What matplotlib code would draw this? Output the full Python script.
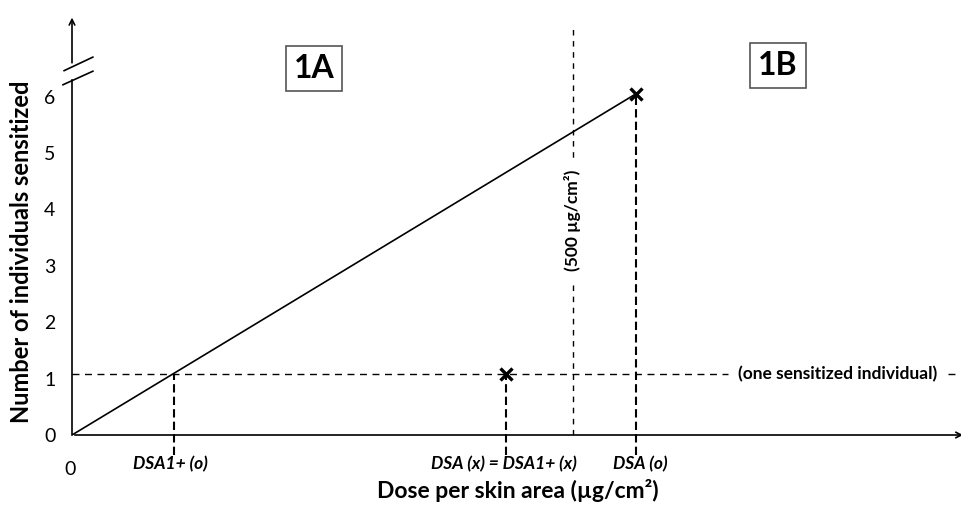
import matplotlib.pyplot as plt

plt.rcParams["font.family"] = ["Lato", "DejaVu Sans"]

# schematic values (arbitrary dose units)
yticks = [0, 1, 2, 3, 4, 5, 6]
line_x = [0, 10.0]
line_y = [0, 6.05]
one_level = 1.08
dsa1_o = 1.8
dsa_x = 7.7
dsa_o = 10.0
limit_500 = 8.88

W, H = 961, 505
scale = 56.4
x0_px, y0_px = 72, 70

fig = plt.figure(figsize=(W / 100, H / 100), dpi=100)
ax = fig.add_axes([x0_px / W, y0_px / H, 1 - x0_px / W, 1 - y0_px / H])
ax.set_xlim(0, (W - x0_px) / scale)
ax.set_ylim(0, (H - y0_px) / scale)
for s in ax.spines.values():
    s.set_visible(False)

ax.set_yticks(yticks)
ax.set_yticklabels([str(v) for v in yticks], fontsize=14)
ax.tick_params(axis="y", length=0, pad=12)
ax.set_xticks([])

lw = 1.2
# y axis with break
ax.plot([0, 0], [0, 6.3], color="black", lw=lw, clip_on=False)
ax.annotate("", xy=(0, 7.45), xytext=(0, 6.55),
            arrowprops=dict(arrowstyle="->", lw=lw, color="black"))
ax.plot([-0.16, 0.37], [6.21, 6.45], color="black", lw=lw, clip_on=False)
ax.plot([-0.14, 0.37], [6.46, 6.70], color="black", lw=lw, clip_on=False)

# x axis
ax.annotate("", xy=(15.85, 0), xytext=(0, 0),
            arrowprops=dict(arrowstyle="->", lw=lw, color="black"),
            annotation_clip=False)

# dose-response line
ax.plot(line_x, line_y, color="black", lw=lw)
ax.plot([line_x[1]], [line_y[1]], marker="x", color="black", ms=9, mew=2.4)
ax.plot([dsa_x], [one_level], marker="x", color="black", ms=8, mew=2.4)

# one sensitized individual
ax.plot([0, 11.63], [one_level, one_level], color="black", lw=1, ls=(0, (5, 4)))
ax.plot([15.53, 15.8], [one_level, one_level], color="black", lw=1, ls=(0, (5, 4)),
        clip_on=False)
ax.text(13.58, one_level, "(one sensitized individual)", fontsize=12.5,
        fontweight="bold", ha="center", va="center")

# 500 ug/cm2 limit
ax.plot([limit_500, limit_500], [0, 7.27], color="black", lw=1, ls=(0, (4, 4)))
ax.text(limit_500, 3.8, "(500 µg/cm²)", rotation=90, fontsize=12.5,
        fontweight="bold", ha="center", va="center",
        bbox=dict(facecolor="white", edgecolor="none", pad=8))

# DSA drop lines
for xv, top in [(dsa1_o, one_level), (dsa_x, one_level), (dsa_o, line_y[1])]:
    ax.plot([xv, xv], [-0.35, top], color="black", lw=1.5, ls=(0, (4, 2)),
            clip_on=False)

lab_y = -0.52
lab_kw = dict(fontsize=12.5, fontweight="bold", style="italic",
              ha="center", va="center")
ax.text(dsa1_o - 0.05, lab_y, "DSA1+ (o)", **lab_kw)
ax.text(dsa_x - 0.05, lab_y, "DSA (x) = DSA1+ (x)", **lab_kw)
ax.text(dsa_o + 0.08, lab_y, "DSA (o)", **lab_kw)
ax.text(-0.03, -0.62, "0", fontsize=14, ha="center", va="center")

# panel labels
box = dict(facecolor="white", edgecolor="#555555", lw=1.2, boxstyle="square,pad=0.25")
ax.text(4.29, 6.5, "1A", fontsize=23, fontweight="bold", ha="center",
        va="center", bbox=box)
ax.text(12.52, 6.56, "1B", fontsize=23, fontweight="bold", ha="center",
        va="center", bbox=box)

fig.text(518 / W, 1 - 491 / H, "Dose per skin area (µg/cm²)", fontsize=16.5,
         fontweight="bold", ha="center", va="center")
fig.text(22 / W, 1 - 252 / H, "Number of individuals sensitized", fontsize=17,
         fontweight="bold", ha="center", va="center", rotation=90)

fig.savefig("out.png", dpi=100)
